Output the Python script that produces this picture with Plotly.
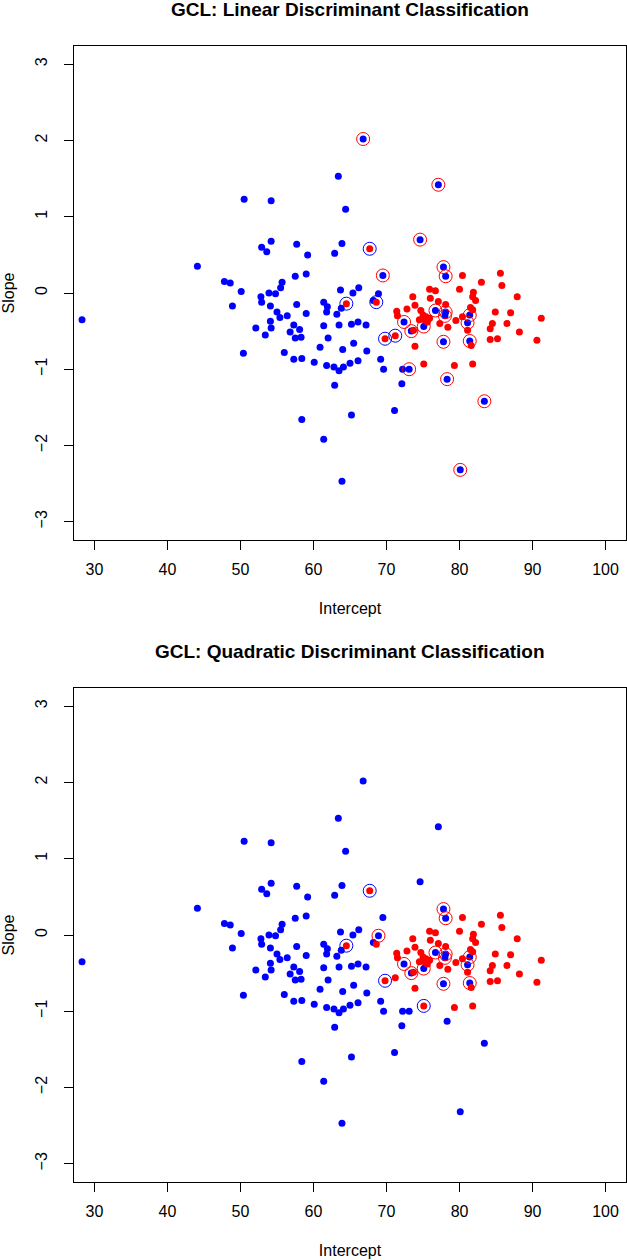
import plotly.graph_objects as go

# ---- data ----
# group 1 = blue, group 2 = red
intercept = [
    28.3, 44.1, 47.8, 48.6, 50.1, 48.9, 50.4, 50.5, 52.1, 52.8, 52.9, 53.9, 54.8, 54.1, 55.0, 55.4,
    56.4, 57.7, 59.0, 61.4, 61.9, 61.8, 63.2, 63.7, 65.4, 63.8, 53.4, 54.1, 54.2, 57.3, 56.8, 57.5,
    58.1, 58.3, 61.4, 62.0, 63.5, 65.2, 66.1, 67.2, 56.0, 57.3, 58.4, 60.1, 60.9, 64.0, 65.5, 67.3,
    61.8, 62.8, 63.5, 64.1, 65.0, 66.1, 62.9, 58.4, 65.2, 61.4, 63.9, 63.4, 54.2, 64.4, 54.2, 52.9,
    53.6, 57.7, 59.2, 63.9, 62.9, 57.5, 59.0, 55.7, 55.5, 66.2, 66.8, 74.6, 69.5, 77.1, 77.8, 78.1,
    68.9, 68.2, 69.2, 69.6, 72.2, 73.1, 72.1, 71.1, 78.3, 83.4, 80.1, 72.4, 76.7, 78.1, 78.0, 75.1,
    73.4, 77.8, 81.4, 81.4, 81.1,
    67.7, 64.5, 68.6, 69.8, 71.2, 75.1, 73.6, 75.9, 76.7, 76.0, 77.1, 78.1, 73.9, 72.8, 71.4, 71.5,
    74.7, 75.0, 75.4, 75.9, 75.2, 74.5, 75.6, 77.3, 78.4, 73.9, 80.4, 85.6, 83.0, 85.8, 80.0, 81.9,
    81.8, 82.2, 87.9, 81.5, 81.8, 84.9, 87.0, 79.5, 80.4, 84.5, 84.2, 86.5, 91.2, 81.1, 88.2, 81.6,
    84.2, 85.2, 90.6, 79.3, 81.8, 73.7,
]
slope = [
    -0.35, 0.35, 0.15, 0.13, 0.02, -0.17, -0.79, 1.23, -0.46, -0.05, -0.12, 0.00, -0.01, -0.17, -0.25, -0.32,
    -0.30, -0.15, -0.27, -0.12, -0.18, -0.25, -0.28, 0.04, 0.00, -0.20, -0.55, -0.37, -0.46, -0.42, -0.51, -0.59,
    -0.48, -0.58, -0.43, -0.59, -0.42, -0.41, -0.38, -0.42, -0.78, -0.87, -0.86, -0.91, -0.71, -0.74, -0.66, -0.76,
    -0.95, -0.97, -1.02, -0.97, -0.92, -0.89, -1.21, -1.66, -1.60, -1.92, -2.47, 1.53, 1.21, 1.10, 0.68, 0.60,
    0.54, 0.64, 0.50, 0.65, 0.52, 0.22, 0.25, 0.14, 0.07, 0.07, 2.02, 0.70, 0.23, 1.42, 0.34, 0.22,
    -0.01, -0.10, -0.87, -1.00, -1.00, -1.00, -1.19, -1.54, -1.13, -1.42, -2.32, -0.38, -0.23, -0.25, -0.30, -0.44,
    -0.50, -0.64, -0.63, -0.29, -0.39,
    0.58, -0.14, -0.12, -0.60, -0.56, -0.93, -0.05, 0.05, 0.03, -0.07, -0.11, -0.15, -0.16, -0.21, -0.24, -0.30,
    -0.23, -0.29, -0.31, -0.33, -0.35, -0.35, -0.38, -0.40, -0.45, -0.70, 0.23, 0.26, 0.14, 0.10, 0.05, 0.01,
    -0.05, -0.10, -0.05, -0.19, -0.22, -0.25, -0.26, -0.36, -0.31, -0.40, -0.47, -0.40, -0.33, -0.49, -0.51, -0.69,
    -0.61, -0.60, -0.62, -0.95, -0.93, -0.49,
]
group = [1] * 101 + [2] * 54

# misclassified flags (1 = wrong) for each method
lda_wrong = (
    [0] * 74 + [1, 1, 1, 1, 1, 1, 0, 0, 0, 0, 0, 1, 0, 0, 1, 1, 1, 1, 1, 1, 1, 1, 1, 1, 1, 1, 1]
    + [1, 1, 1, 1, 1, 0] + [0] * 48
)
qda_wrong = (
    [0] * 74 + [0, 0, 0, 0, 1, 1, 1, 0, 0, 0, 0, 0, 0, 0, 0, 0, 0, 1, 1, 1, 1, 1, 1, 1, 1, 1, 1]
    + [1, 1, 0, 1, 0, 1] + [0] * 48
)

titles = ["GCL: Linear Discriminant Classification", "GCL: Quadratic Discriminant Classification"]
x_ticks = [30, 40, 50, 60, 70, 80, 90, 100]
y_ticks = [-3, -2, -1, 0, 1, 2, 3]
colors = {1: "#0000FF", 2: "#FF0000"}
other = {1: 2, 2: 1}

FONT = "Liberation Sans, Arial, sans-serif"

fig = go.Figure()

panels = [("x", "y", lda_wrong), ("x2", "y2", qda_wrong)]
for xa, ya, wrong in panels:
    for g in (1, 2):
        xs = [intercept[i] for i in range(len(group)) if group[i] == g]
        ys = [slope[i] for i in range(len(group)) if group[i] == g]
        fig.add_trace(go.Scatter(
            x=xs, y=ys, mode="markers", xaxis=xa, yaxis=ya, showlegend=False,
            marker=dict(symbol="circle", size=7, color=colors[g], line=dict(width=0)),
            hoverinfo="skip"))
    for g in (1, 2):
        xs = [intercept[i] for i in range(len(group)) if group[i] == g and wrong[i]]
        ys = [slope[i] for i in range(len(group)) if group[i] == g and wrong[i]]
        fig.add_trace(go.Scatter(
            x=xs, y=ys, mode="markers", xaxis=xa, yaxis=ya, showlegend=False,
            marker=dict(symbol="circle-open", size=13, color=colors[other[g]],
                        line=dict(width=1, color=colors[other[g]])),
            hoverinfo="skip"))

axis_common = dict(
    showgrid=False, zeroline=False, showline=True, mirror=True,
    linecolor="black", linewidth=1, ticks="outside", ticklen=9,
    tickcolor="black", tickwidth=1, automargin=False,
    tickfont=dict(family=FONT, size=16, color="black"),
)
title_font = dict(family=FONT, size=16, color="black")

H = 1260
T, B = 46, 78
plot_h = H - T - B

def pf(px):
    return (H - B - px) / plot_h

fig.update_layout(
    width=627, height=1260,
    margin=dict(l=74, r=1, t=T, b=B, autoexpand=False),
    paper_bgcolor="white", plot_bgcolor="white",
    xaxis=dict(domain=[0, 1], anchor="y", range=[27.2, 102.8], tickvals=x_ticks,
               title=dict(text="Intercept", font=title_font, standoff=25),
               ticklabelstandoff=6, **axis_common),
    yaxis=dict(domain=[pf(540), 1], anchor="x", range=[-3.24, 3.24], tickvals=y_ticks,
               tickangle=-90,
               title=dict(text="Slope", font=title_font, standoff=16),
               ticklabelstandoff=11, **axis_common),
    xaxis2=dict(domain=[0, 1], anchor="y2", range=[27.2, 102.8], tickvals=x_ticks,
                title=dict(text="Intercept", font=title_font, standoff=25),
                ticklabelstandoff=6, **axis_common),
    yaxis2=dict(domain=[0, pf(688)], anchor="x2", range=[-3.24, 3.24], tickvals=y_ticks,
                tickangle=-90,
                title=dict(text="Slope", font=title_font, standoff=16),
                ticklabelstandoff=11, **axis_common),
)

for t, py in zip(titles, [9, 651]):
    fig.add_annotation(text="<b>" + t + "</b>", xref="paper", yref="paper",
                       x=0.5, y=pf(py), xanchor="center", yanchor="middle",
                       showarrow=False, font=dict(family=FONT, size=19, color="black"))

fig.write_html(
    "out.html",
    config={"displayModeBar": False},
    post_script="document.body.style.margin='0';document.body.style.overflow='hidden';",
)
